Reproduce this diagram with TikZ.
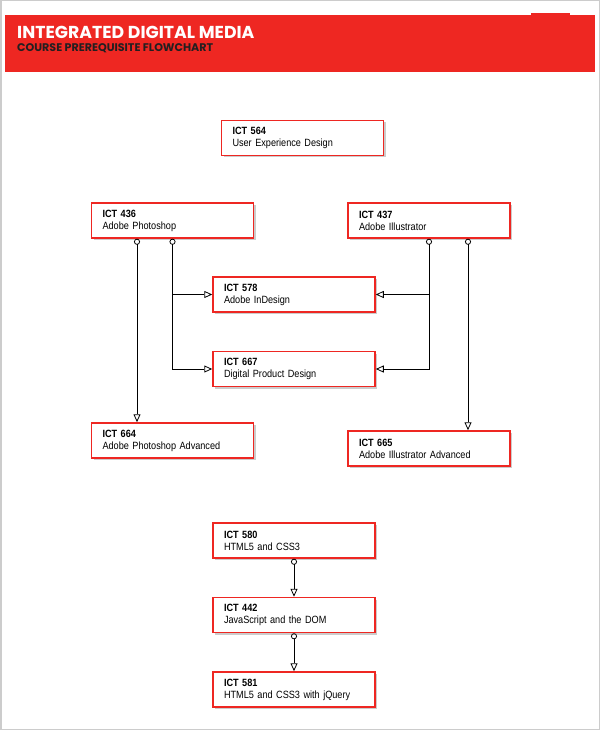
\documentclass[tikz,border=0pt]{standalone}
\usepackage{fontspec}
\setmainfont{Liberation Sans}[FakeStretch=0.87, WordSpace=0.8]
\newfontfamily\headfont{Poppins}
\usetikzlibrary{positioning, arrows.meta, shadows}

\definecolor{idmred}{HTML}{EE2722}
\definecolor{idmdark}{HTML}{231F20}
\definecolor{framegray}{HTML}{CCCCCC}

\tikzset{
  course/.style={rectangle, draw=idmred, line width=1.5pt, fill=white,
    minimum width=162pt, minimum height=35pt, text width=140pt,
    inner xsep=11pt, align=left, font=\fontsize{10.5}{12}\selectfont,
    drop shadow={shadow xshift=2pt, shadow yshift=-2pt, fill=black!40}},
  prereq/.style={draw, line width=0.8pt,
    {Circle[open,length=6pt]}-{Triangle[open,length=8pt,width=7pt]}},
  branch/.style={draw, line width=0.8pt, -{Triangle[open,length=8pt,width=7pt]}}
}

\begin{document}
\begin{tikzpicture}[x=1pt, y=-1pt, node distance=38pt]
\useasboundingbox (0,0) rectangle (600,730);
\draw[framegray, line width=1.5pt] (0.75,0.75) rectangle (599.25,729.25);

% header
\fill[idmred] (5,15) rectangle (595,72);
\fill[idmred] (531,13) rectangle (570,15);
\node[anchor=base west, inner sep=0, text=white,
  font=\headfont\bfseries\fontsize{17.3}{19}\selectfont] (title) at (17,39) {INTEGRATED DIGITAL MEDIA};
\node[anchor=base west, inner sep=0, text=idmdark,
  font=\headfont\bfseries\fontsize{11.1}{13}\selectfont] (subtitle) at (17,52) {COURSE PREREQUISITE FLOWCHART};

% courses
\node[course] (ict564) at (302.5,138) {\textbf{ICT 564}\\User Experience Design};

\node[course] (ict436) at (172.5,220.5) {\textbf{ICT 436}\\Adobe Photoshop};
\node[course] (ict437) at (429,220.5) {\textbf{ICT 437}\\Adobe Illustrator};

\node[course] (ict578) at (294,294.5) {\textbf{ICT 578}\\Adobe InDesign};
\node[course] (ict667) [below=of ict578] {\textbf{ICT 667}\\Digital Product Design};

\node[course] (ict664) at (172.5,440.5) {\textbf{ICT 664}\\Adobe Photoshop Advanced};
\node[course] (ict665) at (429,448.5) {\textbf{ICT 665}\\Adobe Illustrator Advanced};

\node[course] (ict580) at (294,540.5) {\textbf{ICT 580}\\HTML5 and CSS3};
\node[course] (ict442) [below=of ict580] {\textbf{ICT 442}\\JavaScript and the DOM};
\node[course] (ict581) [below=of ict442] {\textbf{ICT 581}\\HTML5 and CSS3 with jQuery};

% prerequisites
\draw[prereq] ([xshift=-35.5pt]ict436.south) -- ([xshift=-35.5pt]ict664.north);
\draw[prereq] (ict436.south) |- (ict667.west);
\draw[branch] (ict436.south |- ict578.west) -- (ict578.west);

\draw[prereq] (ict437.south) |- (ict667.east);
\draw[branch] (ict437.south |- ict578.east) -- (ict578.east);
\draw[prereq] ([xshift=39pt]ict437.south) -- ([xshift=39pt]ict665.north);

\draw[prereq] (ict580) -- (ict442);
\draw[prereq] (ict442) -- (ict581);
\end{tikzpicture}
\end{document}
